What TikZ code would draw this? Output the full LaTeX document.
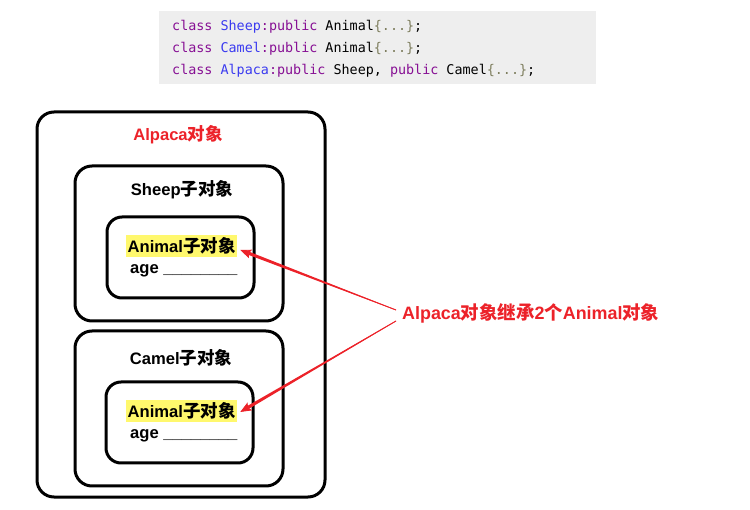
\documentclass[tikz,border=0pt]{standalone}
\usepackage{fontspec}
\newfontfamily\cjk{Noto Sans CJK SC}
\newfontfamily\latfont{Liberation Sans}
\newfontfamily\codefont{DejaVu Sans Mono}
\newcommand\zh[1]{{\cjk\bfseries\fontsize{17.5}{20}\selectfont #1}}
\newcommand\zhbig[1]{{\cjk\bfseries\fontsize{18.4}{21}\selectfont #1}}
\usetikzlibrary{arrows.meta,calc}
\definecolor{kw}{HTML}{871094}
\definecolor{cls}{HTML}{3A3AF0}
\definecolor{brc}{HTML}{7E7E5E}
\definecolor{codebgc}{HTML}{EEEEEE}
\definecolor{myred}{HTML}{EC2229}
\definecolor{hl}{HTML}{FFF86D}
\tikzset{
  codeline/.style={anchor=base west,inner sep=0pt,font=\codefont\fontsize{13.4}{16}\selectfont},
  roundbox/.style={draw=black,line width=3pt,rounded corners=17pt,inner sep=0pt},
  label/.style={font=\latfont\bfseries\fontsize{16.6}{19}\selectfont,inner sep=0pt},
  notelabel/.style={font=\latfont\bfseries\fontsize{17.9}{21}\selectfont,inner sep=0pt,text=myred,anchor=west},
  hlbox/.style={label,fill=hl,inner xsep=1.5pt,inner ysep=2.5pt,anchor=west},
  agebox/.style={label,anchor=west,inner xsep=2pt},
  arr/.style={draw=myred,line width=0.9pt,-{Stealth[length=11pt,width=9pt,inset=2pt]}},
  taper/.style={fill=myred}
}
\begin{document}
\begin{tikzpicture}[x=1pt,y=-1pt]
\useasboundingbox (0,0) rectangle (750,510);
% code block
\node[fill=codebgc,minimum width=437pt,minimum height=73pt,inner sep=0pt] (codebg) at (377.5,47.5) {};
\node[codeline] (c1) at (172,31) {\color{kw}class \color{cls}Sheep\color{kw}:public \color{black}Animal\color{brc}\{...\}\color{black};};
\node[codeline] (c2) at (172,53) {\color{kw}class \color{cls}Camel\color{kw}:public \color{black}Animal\color{brc}\{...\}\color{black};};
\node[codeline] (c3) at (172,75) {\color{kw}class \color{cls}Alpaca\color{kw}:public \color{black}Sheep, \color{kw}public \color{black}Camel\color{brc}\{...\}\color{black};};
% boxes
\node[roundbox,minimum width=288pt,minimum height=385pt] (alpaca) at (181,304.5) {};
\node[label,text=myred] (alpacaT) at (178,135) {Alpaca\zh{对象}};
\node[roundbox,minimum width=208pt,minimum height=155pt] (sheep) at (179,243.5) {};
\node[label] (sheepT) at (182,190) {Sheep\zh{子对象}};
\node[roundbox,minimum width=147pt,minimum height=81pt,rounded corners=15pt] (inner1) at (180.5,257.5) {};
\node[hlbox] (animal1) at (126,246) {Animal\zh{子对象}};
\node[agebox] (age1) at (128,271) {age \_\_\_\_\_\_\_\_};
\node[roundbox,minimum width=208pt,minimum height=155pt] (camel) at (179,408.5) {};
\node[label] (camelT) at (181,358) {Camel\zh{子对象}};
\node[roundbox,minimum width=147pt,minimum height=81pt,rounded corners=15pt] (inner2) at (179.5,422.5) {};
\node[hlbox] (animal2) at (126,411) {Animal\zh{子对象}};
\node[agebox] (age2) at (128,436) {age \_\_\_\_\_\_\_\_};
% note
\node[notelabel] (note) at (402,313) {Alpaca\zhbig{对象继承}2\zhbig{个}Animal\zhbig{对象}};
\coordinate (s1) at ([xshift=-6pt,yshift=3pt]note.west);
\coordinate (t1) at ([xshift=3pt,yshift=-4pt]animal1.east);
\coordinate (s2) at ([xshift=-6pt,yshift=-8pt]note.west);
\coordinate (t2) at ([xshift=3pt,yshift=-1pt]animal2.east);
\draw[arr] (s1) -- (t1);
\draw[arr] (s2) -- (t2);
\fill[taper] ($(s1)!0.3pt!90:(t1)$) -- ($($(t1)!9pt!(s1)$)!1.6pt!-90:(s1)$) -- ($($(t1)!9pt!(s1)$)!1.6pt!90:(s1)$) -- ($(s1)!0.3pt!-90:(t1)$) -- cycle;
\fill[taper] ($(s2)!0.3pt!90:(t2)$) -- ($($(t2)!9pt!(s2)$)!1.6pt!-90:(s2)$) -- ($($(t2)!9pt!(s2)$)!1.6pt!90:(s2)$) -- ($(s2)!0.3pt!-90:(t2)$) -- cycle;
\end{tikzpicture}
\end{document}
